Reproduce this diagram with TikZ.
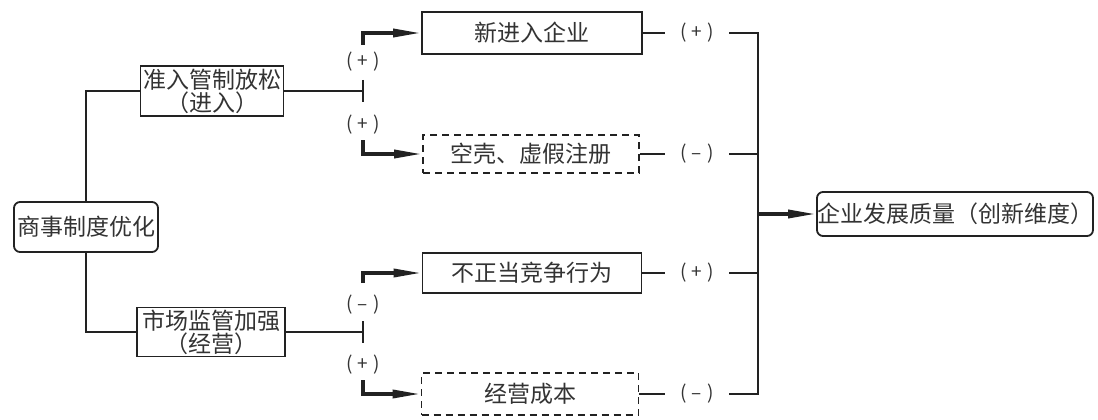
\documentclass[tikz,border=0pt]{standalone}
\usepackage{fontspec}
\setmainfont{Noto Sans CJK SC}
\usetikzlibrary{arrows.meta}
\definecolor{ink}{HTML}{222222}
\definecolor{txt}{HTML}{333333}
\newcommand{\sgn}[1]{(\hspace{5pt}#1\hspace{5pt})}
\tikzset{
  box/.style={draw=ink, line width=1.8pt, minimum height=42pt, inner sep=0pt,
    font=\fontsize{23}{23}\selectfont, text=txt},
  rbox/.style={box, rounded corners=6pt},
  dbox/.style={box, dash pattern=on 7pt off 5pt},
  sign/.style={inner sep=0pt, minimum width=64pt, font=\fontsize{19}{20}\selectfont, text=txt},
  thinline/.style={line width=1.6pt, draw=ink},
  midline/.style={line width=2.2pt, draw=ink},
  bar/.style={line width=2.6pt, draw=ink},
  bus/.style={line width=2.6pt, draw=ink},
  thickarrow/.style={line width=3.5pt, draw=ink, -{Triangle[length=28pt,width=8pt]}},
}
\begin{document}
\begin{tikzpicture}[x=1pt,y=-1pt]
\useasboundingbox (0,0) rectangle (1098,420);
% boxes
\node[rbox, minimum width=144pt, minimum height=50pt] (root) at (86,227) {商事制度优化};
\node[box, minimum width=143pt, minimum height=50pt, align=center] (entry) at (212,91) {准入管制放松\\（进入）};
\node[box, minimum width=148pt, minimum height=49pt, align=center] (reg) at (211,332) {市场监管加强\\（经营）};
\node[box, minimum width=220pt] (new) at (532,33) {新进入企业};
\node[dbox, minimum width=216pt, minimum height=38pt] (shell) at (531,154) {空壳、虚假注册};
\node[box, minimum width=219pt, minimum height=40pt] (unfair) at (532,273) {不正当竞争行为};
\node[dbox, minimum width=217pt] (cost) at (530,394) {经营成本};
\node[rbox, minimum width=275pt, minimum height=44pt] (quality) at (955,214) {企业发展质量（创新维度）};
% left tree
\draw[thinline] (root.north) |- (entry.west);
\draw[thinline] (root.south) |- (reg.west);
% T junctions
\coordinate (t1) at (363,91);
\coordinate (t2) at (363,332);
\draw[midline] (entry.east) -- (t1);
\draw[midline] (reg.east) -- (t2);
\draw[bar] ([yshift=11pt]t1) -- ([yshift=-11pt]t1);
\draw[bar] ([yshift=11pt]t2) -- ([yshift=-11pt]t2);
% branch labels
\node[sign] (a1) at (363,62) {\sgn{+}};
\node[sign] (a2) at (363,125) {\sgn{+}};
\node[sign] (a3) at (363,305) {\sgn{–}};
\node[sign] (a4) at (363,365) {\sgn{+}};
% branches
\coordinate (u1) at (363,45);
\coordinate (l1) at (363,140);
\coordinate (u2) at (363,283);
\coordinate (l2) at (363,380);
\draw[thickarrow] (u1) |- (new.west);
\draw[thickarrow] (l1) |- (shell.west);
\draw[thickarrow] (u2) |- (unfair.west);
\draw[thickarrow] (l2) |- (cost.west);
% right side
\node[sign] (s1) at (697,33) {\sgn{+}};
\node[sign] (s2) at (697,154) {\sgn{–}};
\node[sign] (s3) at (697,273) {\sgn{+}};
\node[sign] (s4) at (697,394) {\sgn{–}};
\draw[midline] (new.east) -- (s1.west);
\draw[midline] (shell.east) -- (s2.west);
\draw[midline] (unfair.east) -- (s3.west);
\draw[midline] (cost.east) -- (s4.west);
\coordinate (b1) at (758,33);
\coordinate (b2) at (758,154);
\coordinate (b3) at (758,273);
\coordinate (b4) at (758,394);
\coordinate (bm) at (758,214);
\draw[bus] (s1.east) -- (b1) -- (b4) -- (s4.east);
\draw[bus] (s2.east) -- (b2);
\draw[bus] (s3.east) -- (b3);
\draw[thickarrow] (bm) -- (quality.west);
\end{tikzpicture}
\end{document}
